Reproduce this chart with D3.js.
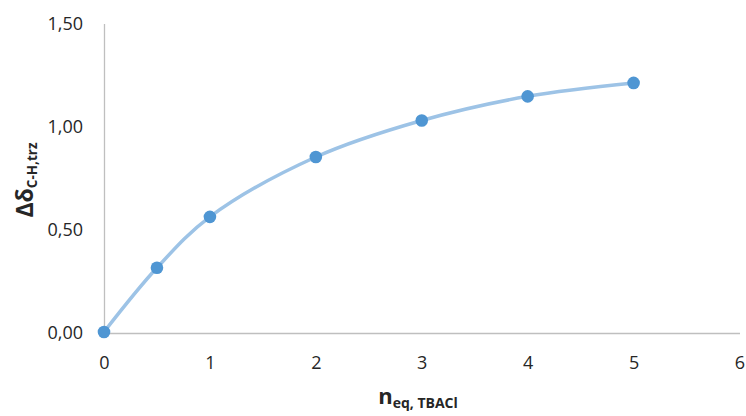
<!DOCTYPE html>
<html>
<head>
<meta charset="utf-8">
<script src="https://cdn.jsdelivr.net/npm/d3@7"></script>
<style>
  html, body { margin: 0; padding: 0; background: #ffffff; }
  svg { display: block; }
</style>
</head>
<body>
<svg id="chart" width="746" height="416"></svg>
<script>
const xValues = [0, 0.5, 1, 2, 3, 4, 5];
const yValues = [0.005, 0.316, 0.563, 0.853, 1.030, 1.147, 1.212];
const xTicks = [0, 1, 2, 3, 4, 5, 6];
const yTicks = [0, 0.5, 1, 1.5];

const svg = d3.select("#chart");
const x = d3.scaleLinear().domain([0, 6]).range([104, 739.5]);
const y = d3.scaleLinear().domain([0, 1.5]).range([333, 23.5]);

const font = "'Open Sans', 'Noto Sans', sans-serif";
const fmt = d => d3.format(".2f")(d).replace(".", ",");

// axes
const xAxis = d3.axisBottom(x).tickValues(xTicks).tickSize(0).tickPadding(23).tickFormat(d3.format("d"));
const yAxis = d3.axisLeft(y).tickValues(yTicks).tickSize(0).tickPadding(21).tickFormat(fmt);

const gx = svg.append("g").attr("transform", `translate(0,${y(0)})`).call(xAxis);
const gy = svg.append("g").attr("transform", `translate(${x(0)},0)`).call(yAxis);
[gx, gy].forEach(g => {
  g.select(".domain").attr("stroke", "#bfbfbf").attr("stroke-width", 1.3);
  g.selectAll("text").attr("fill", "#262626").style("font-family", font).style("font-size", "18px");
});

// line
const data = xValues.map((v, i) => [v, yValues[i]]);
const line = d3.line().x(d => x(d[0])).y(d => y(d[1])).curve(d3.curveCatmullRom.alpha(0.5));
svg.append("path").datum(data)
  .attr("d", line)
  .attr("fill", "none")
  .attr("stroke", "#9dc3e6")
  .attr("stroke-width", 3.5)
  .attr("stroke-linecap", "round");

svg.append("g").selectAll("circle").data(data).join("circle")
  .attr("cx", d => x(d[0])).attr("cy", d => y(d[1]))
  .attr("r", 6.3)
  .attr("fill", "#4f96d3");

// axis titles
const xt = svg.append("text")
  .attr("x", 418).attr("y", 404)
  .attr("text-anchor", "middle")
  .style("font-family", font).style("font-weight", "bold").attr("fill", "#262626");
xt.append("tspan").style("font-size", "22px").text("n");
xt.append("tspan").style("font-size", "14px").attr("dy", 4).text("eq, TBACl");

const yt = svg.append("text")
  .attr("transform", "translate(33,180) rotate(-90)")
  .attr("text-anchor", "middle")
  .style("font-family", font).style("font-weight", "bold").attr("fill", "#262626");
yt.append("tspan").style("font-size", "23px").text("Δδ");
yt.append("tspan").style("font-size", "13.5px").attr("dy", 4).text("C-H,trz");
</script>
</body>
</html>
